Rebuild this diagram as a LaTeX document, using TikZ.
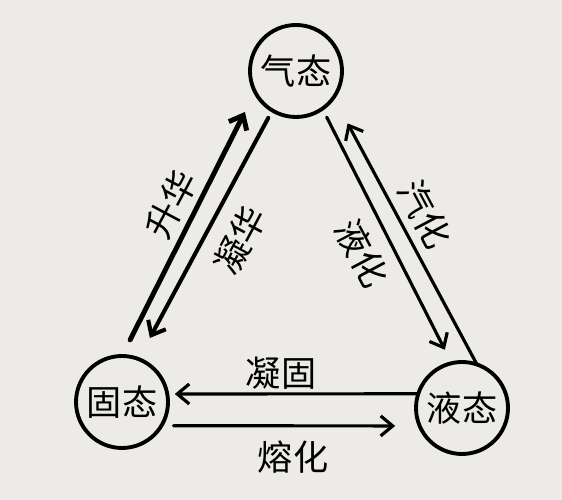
\documentclass[tikz,border=0pt]{standalone}
\usepackage{fontspec}
\newfontfamily\cjk{Noto Sans CJK SC}
\usetikzlibrary{arrows.meta}
\definecolor{paper}{RGB}{237,235,231}
\tikzset{
  state/.style={circle, draw, line width=2.2pt, minimum size=1.84cm, inner sep=0pt, outer sep=0pt, font=\cjk\fontsize{20}{20}\selectfont},
  change/.style={-{Straight Barb[length=2.4mm,width=4mm]}, line width=1.8pt, line cap=round},
  word/.style={font=\cjk\fontsize{20}{20}\selectfont, inner sep=0pt}
}

\begin{document}
\begin{tikzpicture}
            \fill[paper] (0.0, 0.0) rectangle (11.24, 10.0);
            \useasboundingbox (0.0, 0.0) rectangle (11.24, 10.0);

            \node[state] (gas) at (5.92, 8.58) {气态};
            \node[state] (solid) at (2.44, 1.96) {固态};
            \node[state] (liquid) at (9.24, 1.84) {液态};

            \node[word, rotate=62] (sublim) at (3.42, 5.92) {升华};
            \node[word, rotate=62] (desub) at (4.80, 5.20) {凝华};
            \node[word, rotate=-62] (vapor) at (8.50, 5.72) {汽化};
            \node[word, rotate=-62] (conden) at (7.24, 4.94) {液化};
            \node[word] (freeze) at (5.62, 2.54) {凝固};
            \node[word] (melt) at (5.86, 0.86) {熔化};

            \draw[change, line width=2.8pt, shorten <=0.36cm, shorten >=0.45cm] (solid.90) -- (gas.207); % solid-gas
            \draw[change, line width=2.3pt, shorten <=0.17cm, shorten >=0.48cm] (gas.239) -- (solid.69); % gas-solid
            \draw[change, shorten >=0.59cm] (liquid.71) -- (gas.-35); % liquid-gas
            \draw[change, shorten <=0.19cm, shorten >=0.3cm] (gas.-55) -- (liquid.103); % gas-liquid
            \draw[change, shorten >=0.15cm] (liquid.162) -- (solid.10); % liquid-solid
            \draw[change, shorten <=0.24cm, shorten >=0.49cm] (solid.-31.5) -- (liquid.203); % solid-liquid
\end{tikzpicture}
\end{document}
